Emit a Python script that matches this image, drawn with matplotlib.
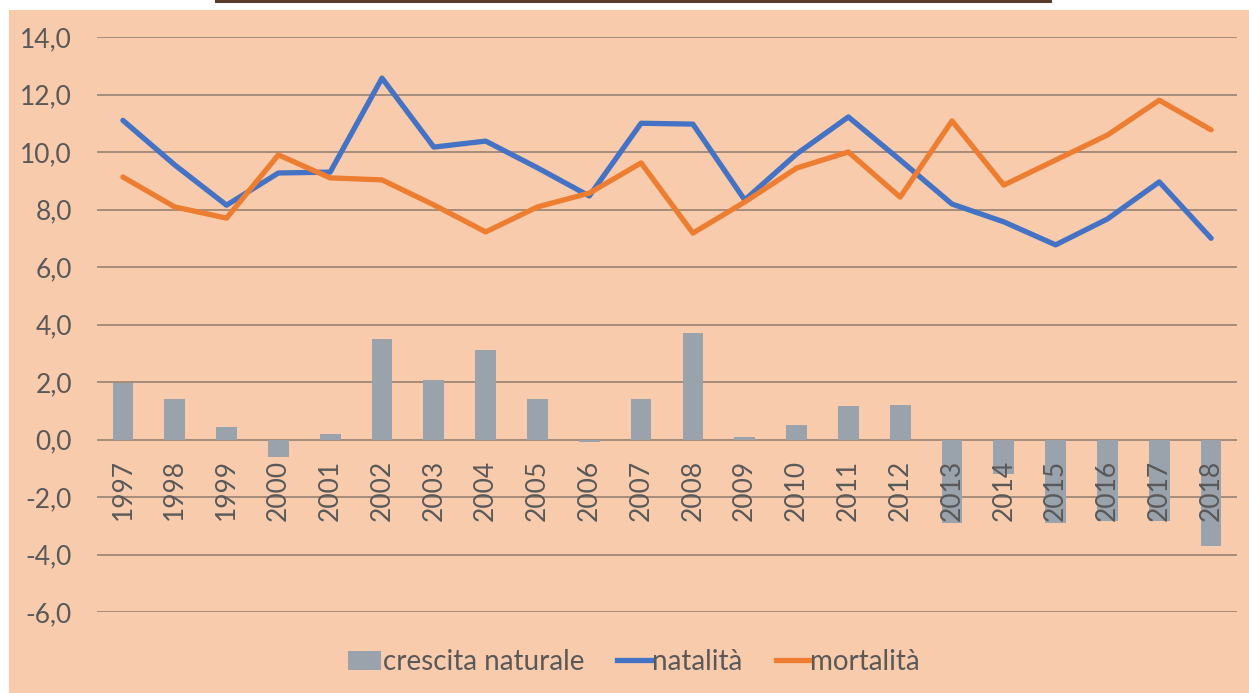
import matplotlib
matplotlib.use("Agg")
import matplotlib.pyplot as plt
from matplotlib.patches import Rectangle
from matplotlib.lines import Line2D
from matplotlib.patches import Patch

years = [str(y) for y in range(1997, 2019)]
natalita = [11.1, 9.55, 8.15, 9.27, 9.3, 12.57, 10.17, 10.38, 9.45, 8.47, 11.0,
            10.97, 8.33, 9.93, 11.22, 9.72, 8.19, 7.57, 6.77, 7.67, 8.96, 7.0]
mortalita = [9.13, 8.09, 7.7, 9.9, 9.1, 9.03, 8.16, 7.22, 8.09, 8.57, 9.62,
             7.18, 8.26, 9.44, 10.0, 8.43, 11.08, 8.85, 9.72, 10.59, 11.8, 10.77]
crescita = [1.95, 1.4, 0.45, -0.6, 0.2, 3.5, 2.07, 3.1, 1.4, -0.1, 1.42,
            3.7, 0.08, 0.5, 1.15, 1.2, -2.9, -1.2, -2.9, -2.85, -2.85, -3.7]
yticks = [-6, -4, -2, 0, 2, 4, 6, 8, 10, 12, 14]

W, H = 1249, 693
fig = plt.figure(figsize=(W / 100, H / 100), dpi=100, facecolor="white")
peach = "#F9CBAD"
fig.patches.append(Rectangle((9 / W, 0), 1 - 9 / W, (H - 10) / H,
                             transform=fig.transFigure, facecolor=peach,
                             edgecolor="none", zorder=-10))
fig.patches.append(Rectangle((215 / W, (H - 3) / H), (1052 - 215) / W, 3 / H,
                             transform=fig.transFigure, facecolor="#5A3A28",
                             edgecolor="none", zorder=-10))

ax = fig.add_axes([97 / W, (H - 612) / H, (1237 - 97) / W, (612 - 37) / H])
ax.set_facecolor("none")
ax.set_zorder(5)
txt = "#595959"
font = "Lato"
bar_c = "#9AA2AB"

x = list(range(len(years)))
ax.bar(x, crescita, width=0.4, color=bar_c, zorder=2)
ax.plot(x, natalita, color="#4472C4", lw=3.8, zorder=3, solid_joinstyle="round",
        solid_capstyle="round")
ax.plot(x, mortalita, color="#ED7D31", lw=3.8, zorder=3, solid_joinstyle="round",
        solid_capstyle="round")

ax.set_xlim(-0.5, len(years) - 0.5)
ax.set_ylim(-6, 14)
ax.set_yticks(yticks)
ax.set_yticklabels([f"{v:.1f}".replace(".", ",") for v in yticks],
                   fontsize=19, color=txt, family=font)
ax.tick_params(axis="y", length=0, pad=18)
ax.set_xticks([])
for s in ax.spines.values():
    s.set_visible(False)
ax.yaxis.grid(True, color="#8E7C6E", lw=1.1, zorder=1)
ax.set_axisbelow(True)

for i, yr in enumerate(years):
    ax.annotate(yr, xy=(i, 0), xytext=(0, -20), textcoords="offset pixels",
                rotation=90, ha="center", va="top", fontsize=19, color=txt,
                family=font, zorder=4)

handles = [Patch(facecolor=bar_c, edgecolor="none"),
           Line2D([], [], color="#4472C4", lw=3.8),
           Line2D([], [], color="#ED7D31", lw=3.8)]
labels = ["crescita naturale", "natalità", "mortalità"]
leg = fig.legend(handles, labels, loc="center", ncol=3,
                 bbox_to_anchor=(634 / W, 1 - 662 / H), frameon=False,
                 prop={"family": font, "size": 20}, handlelength=1.2,
                 handletextpad=0.05, columnspacing=1.2)
for t in leg.get_texts():
    t.set_color(txt)

fig.savefig("out.png", dpi=100, facecolor="white")
